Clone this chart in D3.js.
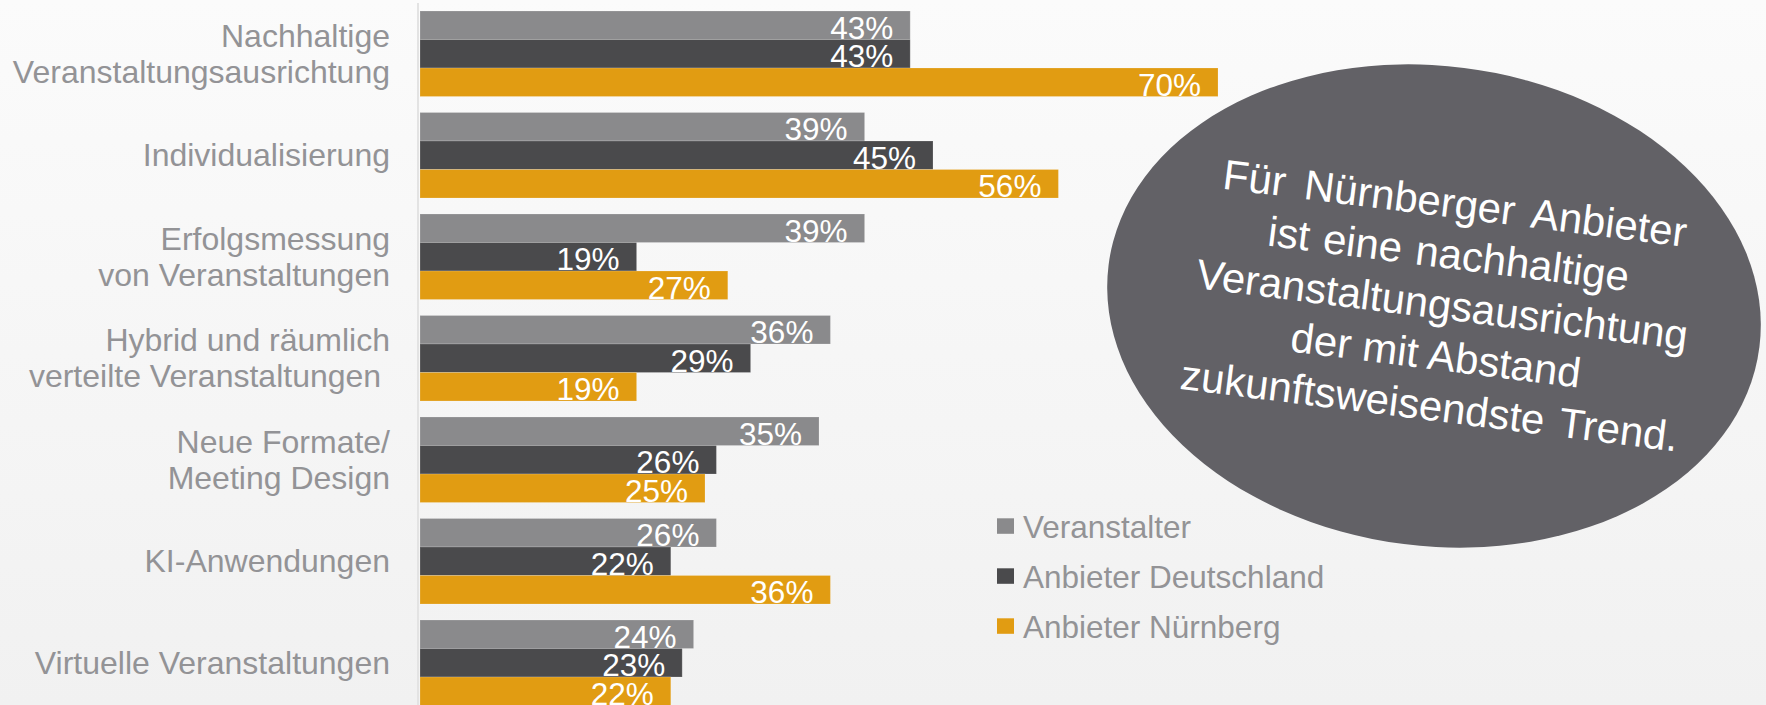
<!DOCTYPE html>
<html>
<head>
<meta charset="utf-8">
<script src="https://cdn.jsdelivr.net/npm/d3@7"></script>
<style>
  html, body { margin: 0; padding: 0; background: #f7f7f7; }
  svg { display: block; }
  text { font-family: "Liberation Sans", Arial, sans-serif; }
</style>
</head>
<body>
<div id="chart"></div>
<script>
// Zukunftstrends der Veranstaltungsbranche – Anteile in %
const categories = [
  ["Nachhaltige", "Veranstaltungsausrichtung"],
  ["Individualisierung"],
  ["Erfolgsmessung", "von Veranstaltungen"],
  ["Hybrid und räumlich", "verteilte Veranstaltungen "],
  ["Neue Formate/", "Meeting Design"],
  ["KI-Anwendungen"],
  ["Virtuelle Veranstaltungen"]
];
const seriesNames = ["Veranstalter", "Anbieter Deutschland", "Anbieter Nürnberg"];
const veranstalter        = [43, 39, 39, 36, 35, 26, 24];
const anbieterDeutschland = [43, 45, 19, 29, 26, 22, 23];
const anbieterNuernberg   = [70, 56, 27, 19, 25, 36, 22];
const seriesColors = ["#8a8a8c", "#4a4a4c", "#e19c12"];
const calloutLines = [
  "Für Nürnberger Anbieter",
  "ist eine nachhaltige",
  "Veranstaltungsausrichtung",
  "der mit Abstand",
  "zukunftsweisendste Trend."
];
const calloutWordSpacing = [7, 2, 0, 0, 4];

const W = 1766, H = 705;
const seriesValues = [veranstalter, anbieterDeutschland, anbieterNuernberg];
const catKeys = categories.map(c => c.join(" "));

const svg = d3.select("#chart").append("svg")
  .attr("width", W).attr("height", H);

// soft vertical background gradient
const defs = svg.append("defs");
const bg = defs.append("linearGradient").attr("id", "bg")
  .attr("x1", 0).attr("y1", 0).attr("x2", 0).attr("y2", 1);
bg.append("stop").attr("offset", "0%").attr("stop-color", "#fbfbfb");
bg.append("stop").attr("offset", "100%").attr("stop-color", "#f1f1f1");
svg.append("rect").attr("width", W).attr("height", H).attr("fill", "url(#bg)");

// scales
const x = d3.scaleLinear().domain([0, 100]).range([420, 1560]);
const pad = 16 / 101.5;
const y = d3.scaleBand().domain(catKeys).range([3, 713.5])
  .paddingInner(pad).paddingOuter(pad / 2);
const ySub = d3.scaleBand().domain(d3.range(seriesNames.length))
  .range([0, y.bandwidth()]).padding(0);

// category axis line
svg.append("line")
  .attr("x1", 418).attr("x2", 418)
  .attr("y1", 3).attr("y2", H)
  .attr("stroke", "#e3e3e3").attr("stroke-width", 2);

// bars
const rows = [];
catKeys.forEach((k, i) => {
  seriesValues.forEach((vals, s) => {
    rows.push({ cat: k, s, v: vals[i] });
  });
});

const bars = svg.append("g");
bars.selectAll("rect").data(rows).join("rect")
  .attr("x", x(0))
  .attr("y", d => y(d.cat) + ySub(d.s))
  .attr("width", d => x(d.v) - x(0))
  .attr("height", ySub.bandwidth())
  .attr("fill", d => seriesColors[d.s])
  .attr("stroke", "rgba(255,255,255,0.18)")
  .attr("stroke-width", 1);

// value labels inside the bar end
bars.selectAll("text").data(rows).join("text")
  .attr("x", d => x(d.v) - 17)
  .attr("y", d => y(d.cat) + ySub(d.s) + ySub.bandwidth() / 2 + 13.5)
  .attr("text-anchor", "end")
  .attr("fill", "#ffffff")
  .attr("font-size", 31.5)
  .text(d => d.v + "%");

// category labels
const lineH = 36;
const labels = svg.append("g");
categories.forEach((lines, i) => {
  const cy = y(catKeys[i]) + y.bandwidth() / 2;
  const t = labels.append("text")
    .attr("text-anchor", "end")
    .attr("fill", "#939396")
    .attr("font-size", 32)
    .style("white-space", "pre");
  lines.forEach((ln, j) => {
    t.append("tspan")
      .attr("x", 390)
      .attr("y", cy + 11 + (j - (lines.length - 1) / 2) * lineH)
      .text(ln);
  });
});

// callout ellipse
const callout = svg.append("g")
  .attr("transform", "translate(1434,306) rotate(7.2)");
callout.append("ellipse")
  .attr("cx", 0).attr("cy", 0)
  .attr("rx", 328).attr("ry", 240)
  .attr("fill", "#626166");
callout.selectAll("text.callout").data(calloutLines).join("text")
  .attr("class", "callout")
  .attr("x", 8)
  .attr("y", (d, i) => 12 + (i - 2) * 51)
  .attr("text-anchor", "middle")
  .attr("fill", "#ffffff")
  .attr("font-size", 42)
  .attr("word-spacing", (d, i) => calloutWordSpacing[i])
  .text(d => d);

// legend
const legend = svg.append("g");
seriesNames.forEach((name, i) => {
  const ly = 538.3 + i * 50;
  legend.append("rect")
    .attr("x", 997).attr("y", ly - 20)
    .attr("width", 17).attr("height", 15.5)
    .attr("fill", seriesColors[i]);
  legend.append("text")
    .attr("x", 1023).attr("y", ly)
    .attr("fill", "#939396")
    .attr("font-size", 31.5)
    .text(name);
});
</script>
</body>
</html>
